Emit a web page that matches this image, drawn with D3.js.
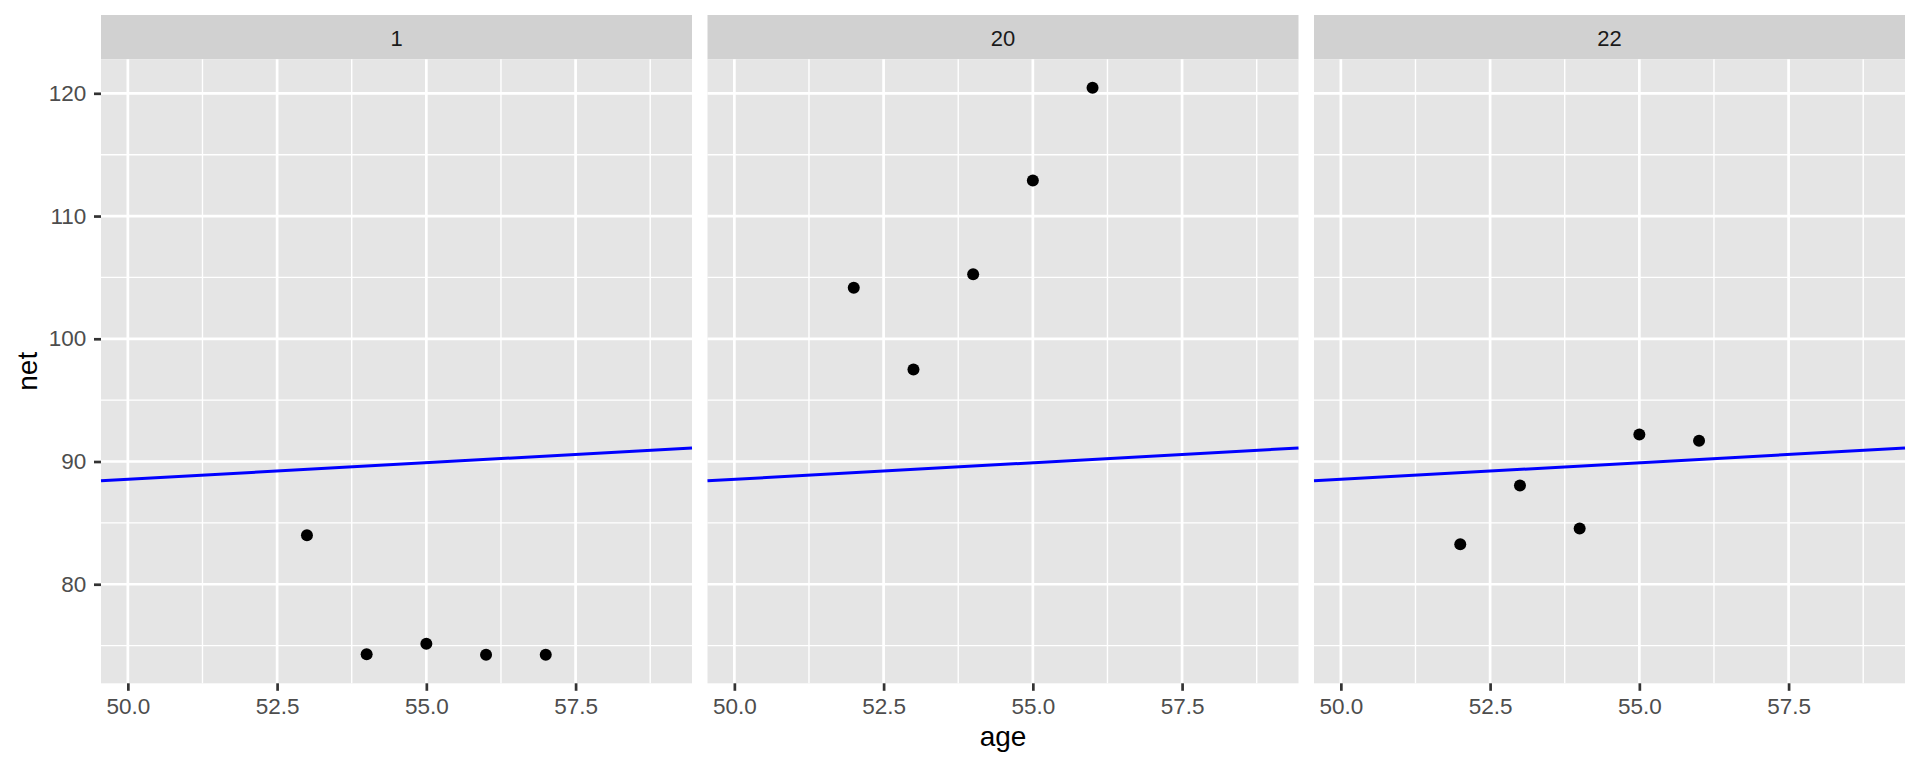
<!DOCTYPE html>
<html>
<head>
<meta charset="utf-8">
<script src="https://cdn.jsdelivr.net/npm/d3@7"></script>
<style>
  html, body { margin: 0; padding: 0; background: #ffffff; }
  svg { display: block; font-family: "Liberation Sans", Arial, Helvetica, sans-serif; }
</style>
</head>
<body>
<svg id="chart" width="1920" height="768"></svg>
<script>
// ---- data ----
const panels = ["1", "20", "22"];
const ages1 = [53, 54, 55, 56, 57];
const net1 = [84.0, 74.3, 75.15, 74.25, 74.25];
const ages20 = [52, 53, 54, 55, 56];
const net20 = [104.15, 97.5, 105.25, 112.9, 120.45];
const ages22 = [52, 53, 54, 55, 56];
const net22 = [83.25, 88.05, 84.55, 92.2, 91.7];
const lineIntercept = 75.05;
const lineSlope = 0.27;
const xLimits = [50, 59];
const yLimits = [74.24, 120.46];
const xTicks = [50, 52.5, 55, 57.5];
const xMinor = [51.25, 53.75, 56.25, 58.75];
const yTicks = [80, 90, 100, 110, 120];
const yMinor = [75, 85, 95, 105, 115];
const xTitle = "age";
const yTitle = "net";

const series = [
  { panel: panels[0], ages: ages1, net: net1 },
  { panel: panels[1], ages: ages20, net: net20 },
  { panel: panels[2], ages: ages22, net: net22 }
];

// ---- layout ----
const svg = d3.select("#chart");
const plotLeft = 101, plotRight = 1905;
const gap = 15.5;
const stripTop = 15, stripBottom = 59.3;
const panelTop = stripBottom, panelBottom = 683.3;
const panelW = (plotRight - plotLeft - 2 * gap) / 3;

function expand(lim) {
  const r = lim[1] - lim[0];
  return [lim[0] - 0.05 * r, lim[1] + 0.05 * r];
}
const xDom = expand(xLimits);
const yDom = expand(yLimits);

const y = d3.scaleLinear().domain(yDom).range([panelBottom, panelTop]);

series.forEach((s, i) => {
  const left = plotLeft + i * (panelW + gap);
  const x = d3.scaleLinear().domain(xDom).range([left, left + panelW]);
  const g = svg.append("g");

  // strip
  g.append("rect").attr("x", left).attr("y", stripTop)
    .attr("width", panelW).attr("height", stripBottom - stripTop)
    .attr("fill", "#D1D1D1");
  g.append("text").attr("x", left + panelW / 2).attr("y", (stripTop + stripBottom) / 2 + 1)
    .attr("text-anchor", "middle").attr("dominant-baseline", "central")
    .attr("font-size", 22).attr("fill", "#1A1A1A").text(s.panel);

  // panel background
  g.append("rect").attr("x", left).attr("y", panelTop)
    .attr("width", panelW).attr("height", panelBottom - panelTop)
    .attr("fill", "#E5E5E5");

  // minor grid
  g.selectAll(".xminor").data(xMinor).enter().append("line")
    .attr("x1", d => x(d)).attr("x2", d => x(d))
    .attr("y1", panelTop).attr("y2", panelBottom)
    .attr("stroke", "#ffffff").attr("stroke-width", 1.4);
  g.selectAll(".yminor").data(yMinor).enter().append("line")
    .attr("x1", left).attr("x2", left + panelW)
    .attr("y1", d => y(d)).attr("y2", d => y(d))
    .attr("stroke", "#ffffff").attr("stroke-width", 1.4);
  // major grid
  g.selectAll(".xmajor").data(xTicks).enter().append("line")
    .attr("x1", d => x(d)).attr("x2", d => x(d))
    .attr("y1", panelTop).attr("y2", panelBottom)
    .attr("stroke", "#ffffff").attr("stroke-width", 2.7);
  g.selectAll(".ymajor").data(yTicks).enter().append("line")
    .attr("x1", left).attr("x2", left + panelW)
    .attr("y1", d => y(d)).attr("y2", d => y(d))
    .attr("stroke", "#ffffff").attr("stroke-width", 2.7);

  // abline
  g.append("line")
    .attr("x1", x(xDom[0])).attr("y1", y(lineIntercept + lineSlope * xDom[0]))
    .attr("x2", x(xDom[1])).attr("y2", y(lineIntercept + lineSlope * xDom[1]))
    .attr("stroke", "#0000FF").attr("stroke-width", 3);

  // points
  g.selectAll(".pt").data(s.ages.map((a, k) => [a, s.net[k]])).enter().append("circle")
    .attr("cx", d => x(d[0])).attr("cy", d => y(d[1])).attr("r", 6)
    .attr("fill", "#000000");

  // x axis
  const xa = g.append("g").attr("transform", `translate(0,${panelBottom})`)
    .call(d3.axisBottom(x).tickValues(xTicks).tickFormat(d3.format(".1f"))
      .tickSize(7.5).tickPadding(7.5));
  xa.select(".domain").remove();
  xa.selectAll(".tick line").attr("stroke", "#333333").attr("stroke-width", 2.7);
  xa.selectAll(".tick text").attr("font-size", 22.5).attr("fill", "#4D4D4D")
    .attr("font-family", "'Liberation Sans', Arial, sans-serif");

  // y axis only on first panel
  if (i === 0) {
    const ya = g.append("g").attr("transform", `translate(${left},0)`)
      .call(d3.axisLeft(y).tickValues(yTicks).tickSize(7).tickPadding(7.7));
    ya.select(".domain").remove();
    ya.selectAll(".tick line").attr("stroke", "#333333").attr("stroke-width", 2.7);
    ya.selectAll(".tick text").attr("font-size", 22.5).attr("fill", "#4D4D4D")
      .attr("font-family", "'Liberation Sans', Arial, sans-serif");
  }
});

// axis titles
svg.append("text").attr("x", (plotLeft + plotRight) / 2).attr("y", 746)
  .attr("text-anchor", "middle").attr("font-size", 28).attr("fill", "#000000")
  .text(xTitle);
svg.append("text")
  .attr("transform", `translate(37,${(panelTop + panelBottom) / 2}) rotate(-90)`)
  .attr("text-anchor", "middle").attr("font-size", 28).attr("fill", "#000000")
  .text(yTitle);
</script>
</body>
</html>
